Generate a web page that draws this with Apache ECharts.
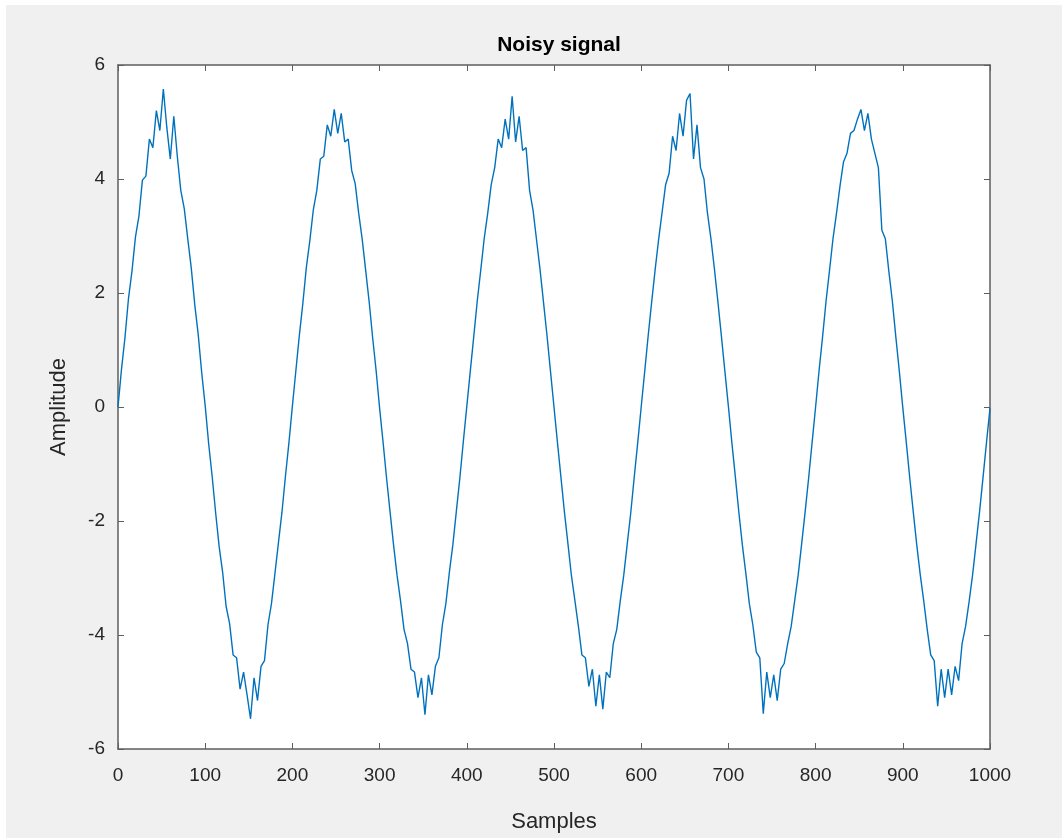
<!DOCTYPE html>
<html>
<head>
<meta charset="utf-8">
<script src="https://cdn.jsdelivr.net/npm/echarts@6/dist/echarts.min.js"></script>
<style>
  html, body { margin: 0; padding: 0; background: #ffffff; width: 1062px; height: 838px; overflow: hidden; }
  #chart { position: absolute; left: 6px; top: 5px; width: 1056px; height: 833px; background: #f0f0f0; }
</style>
</head>
<body>
<div id="chart"></div>
<script>
// Sample positions (every 4th sample)
const samples = [];
for (let s = 0; s <= 1000; s += 4) samples.push(s);

// Amplitude values, one per sample position above
const amplitude = [
  // 0 - 196
  0.00, 0.66, 1.22, 1.90, 2.38, 2.98, 3.35, 3.98, 4.05, 4.70,
  4.55, 5.20, 4.85, 5.58, 4.90, 4.35, 5.10, 4.40, 3.80, 3.48,
  2.95, 2.44, 1.80, 1.27, 0.60, 0.02, -0.65, -1.22, -1.86, -2.45,
  -2.90, -3.50, -3.80, -4.35, -4.40, -4.95, -4.65, -5.05, -5.47, -4.75,
  -5.15, -4.55, -4.45, -3.82, -3.45, -2.92, -2.38, -1.85, -1.22, -0.63,
  // 200 - 396
  0.02, 0.64, 1.26, 1.82, 2.45, 2.92, 3.46, 3.80, 4.35, 4.40,
  4.95, 4.75, 5.22, 4.80, 5.15, 4.65, 4.70, 4.15, 3.92, 3.40,
  2.95, 2.40, 1.85, 1.22, 0.64, -0.02, -0.62, -1.25, -1.84, -2.42,
  -2.95, -3.40, -3.90, -4.15, -4.60, -4.65, -5.10, -4.75, -5.40, -4.70,
  -5.05, -4.55, -4.40, -3.82, -3.45, -2.90, -2.42, -1.83, -1.25, -0.61,
  // 400 - 596
  0.01, 0.63, 1.24, 1.86, 2.40, 2.96, 3.40, 3.90, 4.20, 4.70,
  4.55, 5.05, 4.70, 5.45, 4.65, 5.10, 4.50, 4.55, 3.80, 3.45,
  2.93, 2.41, 1.83, 1.25, 0.62, 0.00, -0.63, -1.24, -1.85, -2.40,
  -2.96, -3.40, -3.85, -4.35, -4.40, -4.90, -4.60, -5.25, -4.70, -5.30,
  -4.65, -4.75, -4.15, -3.90, -3.40, -2.95, -2.40, -1.86, -1.23, -0.63,
  // 600 - 796
  0.00, 0.62, 1.25, 1.84, 2.41, 2.94, 3.42, 3.90, 4.10, 4.75,
  4.50, 5.15, 4.75, 5.38, 5.50, 4.35, 4.95, 4.20, 4.00, 3.40,
  2.95, 2.42, 1.84, 1.24, 0.62, 0.01, -0.63, -1.23, -1.85, -2.42,
  -2.92, -3.45, -3.82, -4.30, -4.40, -5.38, -4.65, -5.10, -4.70, -5.15,
  -4.60, -4.50, -4.15, -3.85, -3.40, -2.95, -2.40, -1.84, -1.25, -0.62,
  // 800 - 1000
  0.00, 0.64, 1.23, 1.86, 2.40, 2.96, 3.40, 3.88, 4.30, 4.45,
  4.80, 4.85, 5.05, 5.22, 4.85, 5.15, 4.70, 4.45, 4.20, 3.10,
  2.95, 2.38, 1.86, 1.23, 0.63, -0.01, -0.62, -1.25, -1.84, -2.42,
  -2.94, -3.40, -3.90, -4.35, -4.45, -5.25, -4.60, -5.10, -4.60, -5.05,
  -4.55, -4.80, -4.15, -3.85, -3.42, -2.95, -2.40, -1.84, -1.24, -0.62,
  -0.02
];

const titleText = 'Noisy signal';
const xName = 'Samples';
const yName = 'Amplitude';

const seriesData = samples.map((s, i) => [s, amplitude[i]]);

const axisColor = '#5e5e5e';
const labelColor = '#262626';
const font = 'Liberation Sans, Arial, Helvetica, sans-serif';

const chart = echarts.init(document.getElementById('chart'), null, { renderer: 'canvas' });
const tickCommon = { show: true, inside: true, length: 6, lineStyle: { color: axisColor, width: 1 } };
const lineCommon = { show: true, onZero: false, lineStyle: { color: axisColor, width: 1.5 } };

chart.setOption({
  animation: false,
  backgroundColor: '#f0f0f0',
  title: {
    text: titleText,
    left: 548,
    textAlign: 'center',
    top: 25,
    textStyle: { fontFamily: font, fontSize: 21, fontWeight: 'bold', color: '#000' }
  },
  grid: {
    left: 112, right: 72, top: 60, bottom: 85,
    show: true, backgroundColor: '#ffffff', borderWidth: 0
  },
  xAxis: [{
    type: 'value', min: 0, max: 1000, interval: 100,
    position: 'bottom',
    name: xName, nameLocation: 'middle', nameGap: 62,
    nameTextStyle: { fontFamily: font, fontSize: 22, color: labelColor },
    axisLine: lineCommon, axisTick: tickCommon,
    axisLabel: { margin: 17, fontFamily: font, fontSize: 19, color: labelColor, showMinLabel: true, showMaxLabel: true,
      formatter: v => String(v) },
    splitLine: { show: false }
  }, {
    type: 'value', min: 0, max: 1000, interval: 100,
    position: 'top',
    axisLine: lineCommon, axisTick: tickCommon,
    axisLabel: { show: false }, splitLine: { show: false }
  }],
  yAxis: [{
    type: 'value', min: -6, max: 6, interval: 2,
    position: 'left',
    name: yName, nameLocation: 'middle', nameGap: 48,
    nameTextStyle: { fontFamily: font, fontSize: 22, color: labelColor },
    axisLine: lineCommon, axisTick: tickCommon,
    axisLabel: { margin: 13, fontFamily: font, fontSize: 19, color: labelColor, showMinLabel: true, showMaxLabel: true,
      formatter: v => String(v) },
    splitLine: { show: false }
  }, {
    type: 'value', min: -6, max: 6, interval: 2,
    position: 'right',
    axisLine: lineCommon, axisTick: tickCommon,
    axisLabel: { show: false }, splitLine: { show: false }
  }],
  series: [{
    type: 'line',
    xAxisIndex: 0, yAxisIndex: 0,
    data: seriesData,
    showSymbol: false,
    symbol: 'none',
    lineStyle: { color: '#0072BD', width: 1.4 },
    z: 1
  }]
});
</script>
</body>
</html>
